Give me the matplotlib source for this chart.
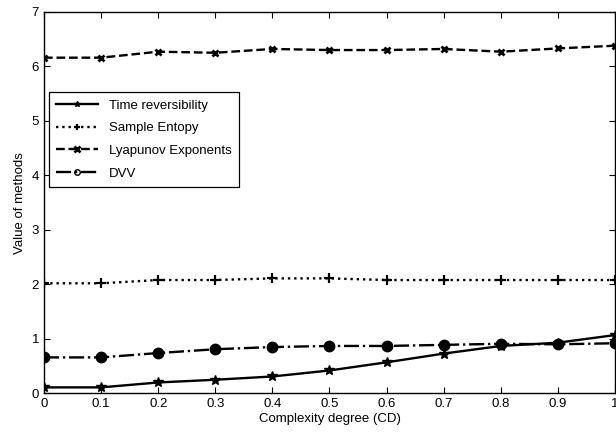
import numpy as np
import matplotlib
matplotlib.use('Agg')
import matplotlib.pyplot as plt

plt.rcParams['font.family'] = ['Liberation Sans', 'DejaVu Sans']

# data
cd = [0, 0.1, 0.2, 0.3, 0.4, 0.5, 0.6, 0.7, 0.8, 0.9, 1.0]
time_rev = [0.11, 0.11, 0.20, 0.25, 0.31, 0.42, 0.57, 0.73, 0.87, 0.93, 1.07]
sample_ent = [2.02, 2.02, 2.08, 2.08, 2.11, 2.11, 2.08, 2.08, 2.08, 2.08, 2.08]
lyapunov = [6.16, 6.16, 6.27, 6.25, 6.32, 6.30, 6.30, 6.32, 6.27, 6.33, 6.38]
dvv = [0.66, 0.66, 0.74, 0.81, 0.85, 0.87, 0.87, 0.89, 0.91, 0.90, 0.92]
names = ['Time reversibility', 'Sample Entopy', 'Lyapunov Exponents', 'DVV']

fig = plt.figure(figsize=(6.16, 4.41), dpi=100)
ax = fig.add_axes([0.0714, 0.108, 0.927, 0.865])

ax.plot(cd, time_rev, 'k-', marker='*', markersize=7, linewidth=1.7, label=names[0])
ax.plot(cd, sample_ent, 'k:', marker='+', markersize=7, markeredgewidth=1.6, linewidth=1.7, label=names[1])
ax.plot(cd, lyapunov, 'k--', marker='x', markersize=5, markeredgewidth=2, linewidth=1.7, label=names[2])
ax.plot(cd, dvv, 'k-.', marker='o', markersize=7.5, linewidth=1.7, label=names[3])

ax.set_xlim(0, 1)
ax.set_ylim(0, 7)
ax.set_xticks(cd)
ax.set_xticklabels(['0', '0.1', '0.2', '0.3', '0.4', '0.5', '0.6', '0.7', '0.8', '0.9', '1'])
ax.set_yticks(range(8))
ax.tick_params(direction='in', top=True, right=True, labelsize=9.5, length=4, width=0.8)
for s in ax.spines.values():
    s.set_linewidth(1.0)

ax.set_xlabel('Complexity degree (CD)', fontsize=9.5, labelpad=2)
ax.set_ylabel('Value of methods', fontsize=9.5, labelpad=4)

leg = ax.legend(loc='upper left', bbox_to_anchor=(0.008, 0.79), fontsize=9.5,
                fancybox=False, framealpha=1, edgecolor='k', handlelength=3.2,
                borderaxespad=0, borderpad=0.55, labelspacing=0.8, handletextpad=0.8)
leg.get_frame().set_linewidth(0.9)
for h in leg.legend_handles:
    h.set_markersize(4)
    if h.get_marker() == 'o':
        h.set_markerfacecolor('none')

fig.savefig('out.png', dpi=100)
